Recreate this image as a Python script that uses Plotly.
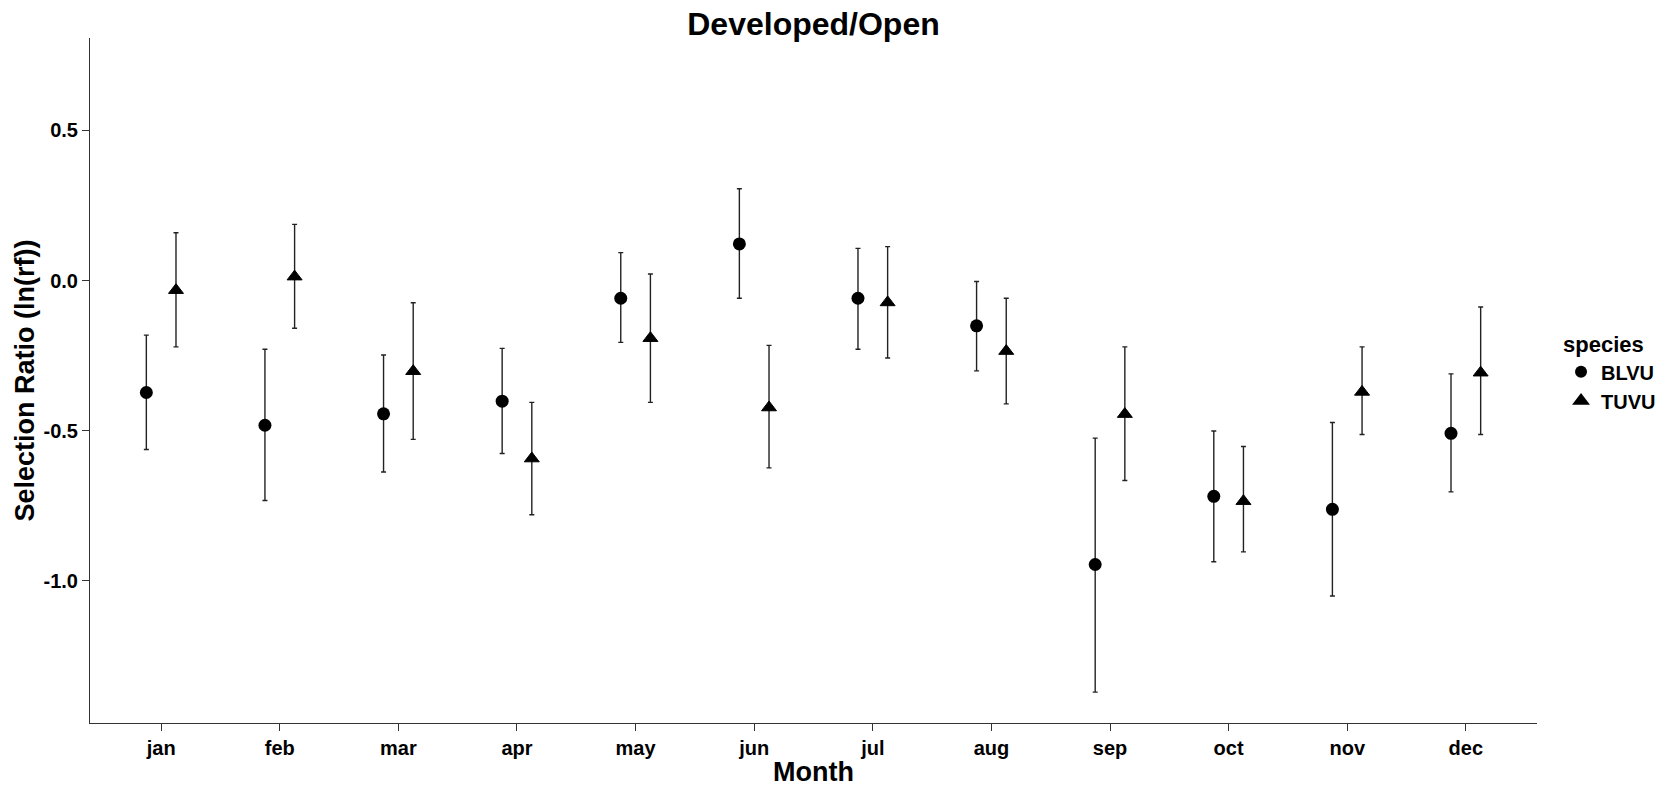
import plotly.graph_objects as go

months = ["jan", "feb", "mar", "apr", "may", "jun", "jul", "aug", "sep", "oct", "nov", "dec"]

blvu_mean = [-0.373, -0.482, -0.444, -0.402, -0.059, 0.122, -0.059, -0.151, -0.946, -0.719, -0.762, -0.509]
blvu_hi   = [-0.182, -0.229, -0.248, -0.226, 0.093, 0.306, 0.107, -0.003, -0.525, -0.501, -0.473, -0.311]
blvu_lo   = [-0.563, -0.733, -0.638, -0.576, -0.206, -0.059, -0.229, -0.301, -1.371, -0.937, -1.051, -0.704]

tuvu_mean = [-0.032, 0.013, -0.302, -0.593, -0.192, -0.423, -0.073, -0.235, -0.445, -0.735, -0.371, -0.307]
tuvu_hi   = [0.159, 0.187, -0.074, -0.406, 0.022, -0.216, 0.113, -0.059, -0.221, -0.553, -0.221, -0.088]
tuvu_lo   = [-0.221, -0.159, -0.529, -0.780, -0.406, -0.624, -0.258, -0.411, -0.666, -0.904, -0.513, -0.513]

y_ticks = [-1.0, -0.5, 0.0, 0.5]
dodge = 0.125

FONT = "Liberation Sans, Arial, sans-serif"

def trace(name, means, hi, lo, offset, symbol, size, lw):
    xs = [i + 1 + offset for i in range(len(means))]
    return go.Scatter(
        x=xs, y=means, mode="markers", name=name,
        marker=dict(symbol=symbol, size=size, color="black", line=dict(color="black", width=lw)),
        error_y=dict(type="data", symmetric=False,
                     array=[h - m for h, m in zip(hi, means)],
                     arrayminus=[m - l for m, l in zip(means, lo)],
                     color="#222222", thickness=1.4, width=2.5),
    )

fig = go.Figure()
fig.add_trace(trace("BLVU", blvu_mean, blvu_hi, blvu_lo, -dodge, "circle", 13, 0))
fig.add_trace(trace("TUVU", tuvu_mean, tuvu_hi, tuvu_lo, dodge, "triangle-up", 13, 1))

fig.update_layout(
    width=1677, height=787,
    margin=dict(l=90, r=140, t=38, b=64),
    paper_bgcolor="white", plot_bgcolor="white",
    font=dict(family=FONT, color="black"),
    title=dict(text="Developed/Open", x=0.5, xref="paper", y=0.970, yref="container",
               xanchor="center", yanchor="middle",
               font=dict(family=FONT, size=32, weight="bold", color="black")),
    showlegend=True,
    legend=dict(title=dict(text="species", font=dict(family=FONT, size=22, weight="bold")),
                font=dict(family=FONT, size=20, weight="bold"),
                x=1.0166, xanchor="left", y=0.583, yanchor="top",
                bgcolor="rgba(0,0,0,0)", itemsizing="constant"),
)

fig.update_xaxes(
    range=[0.4, 12.6], tickmode="array", automargin=False,
    tickvals=list(range(1, len(months) + 1)), ticktext=months,
    showgrid=False, zeroline=False,
    showline=True, linecolor="#333333", linewidth=1,
    ticks="outside", ticklen=7, tickcolor="#333333",
    tickfont=dict(family=FONT, size=20, weight="bold", color="black"),
    title=dict(text="Month", standoff=6, font=dict(family=FONT, size=27, weight="bold", color="black")),
)
fig.update_yaxes(
    range=[-1.474, 0.808], tickmode="array", automargin=False,
    tickvals=y_ticks, ticktext=[f"{v:.1f}" for v in y_ticks],
    showgrid=False, zeroline=False,
    showline=True, linecolor="#333333", linewidth=1,
    ticks="outside", ticklen=7, tickcolor="#333333",
    tickfont=dict(family=FONT, size=20, weight="bold", color="black"),
    title=dict(text="Selection Ratio (ln(rf))", standoff=1,
               font=dict(family=FONT, size=27, weight="bold", color="black")),
)

fig.write_html("out.html")
